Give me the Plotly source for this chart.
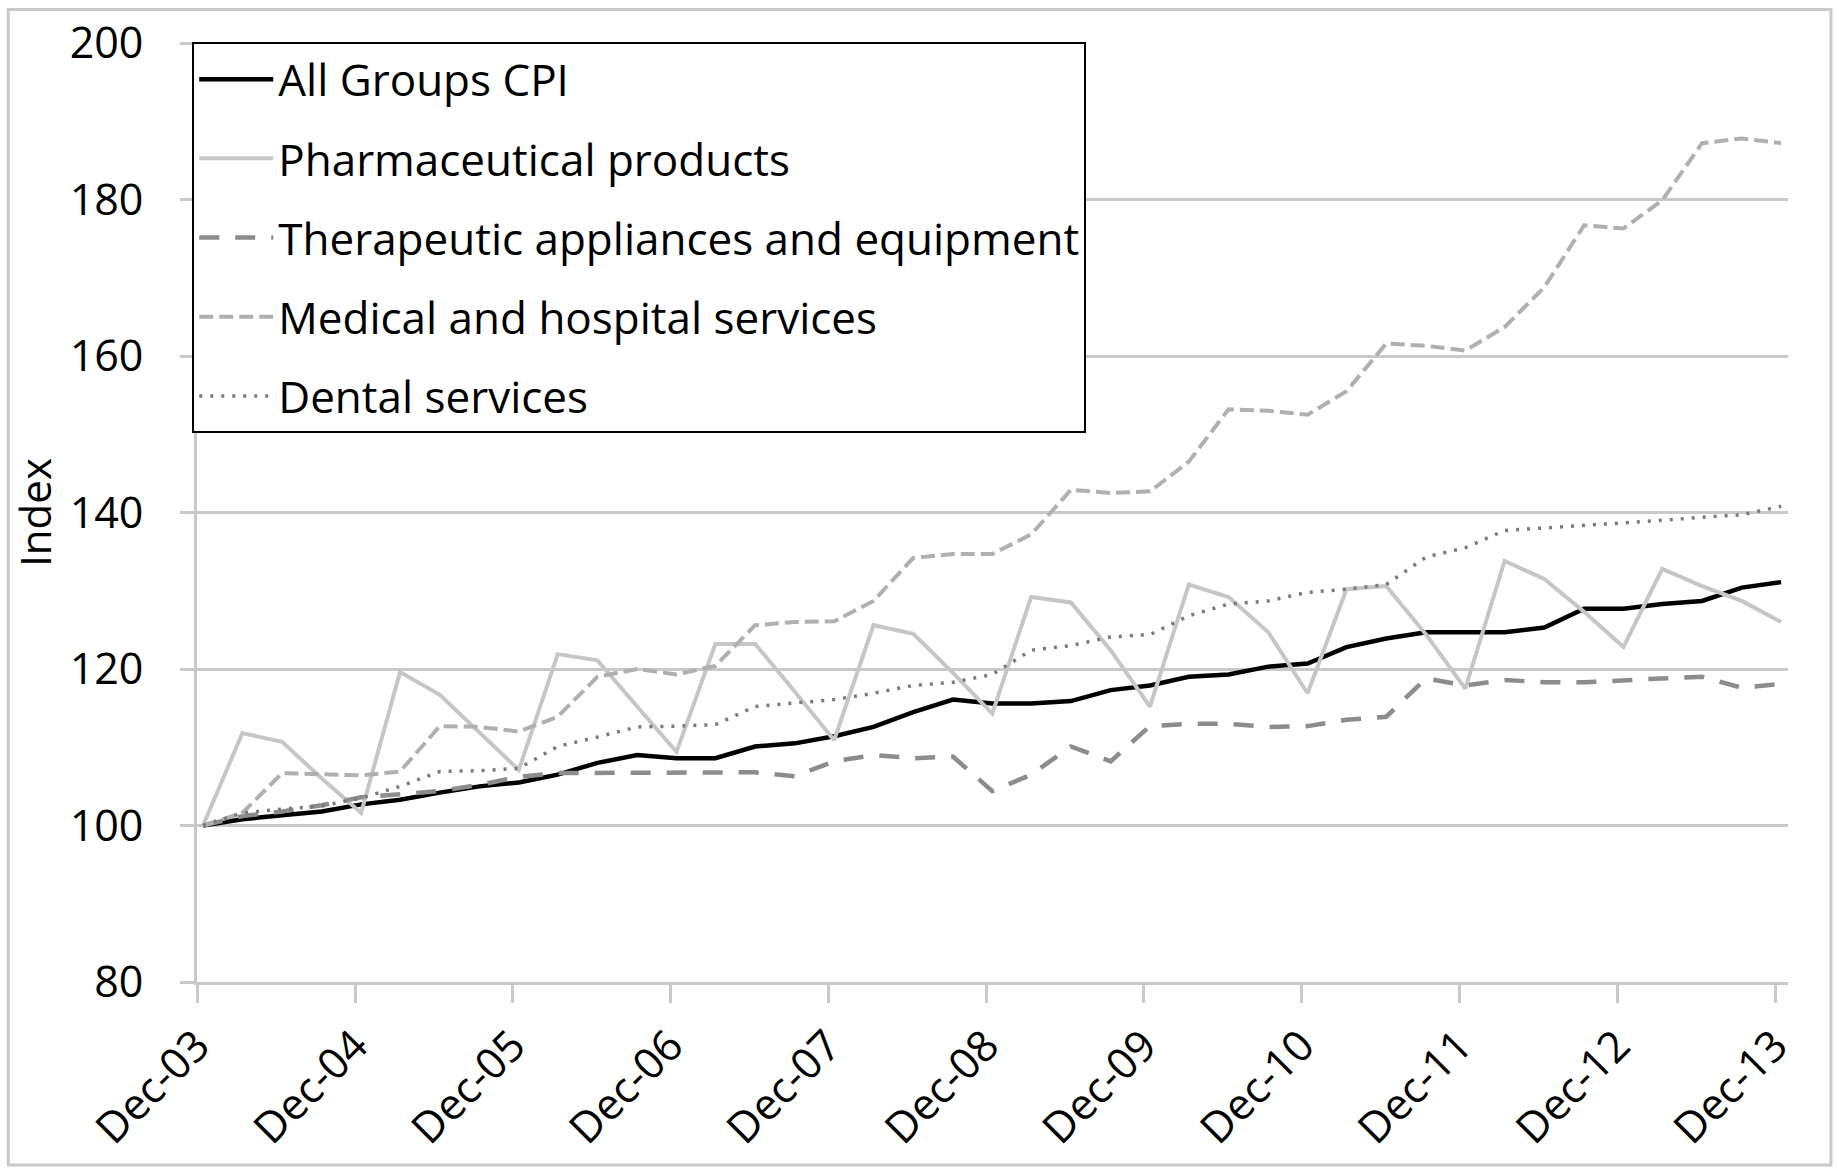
import pandas as pd
import plotly.graph_objects as go

# quarterly index, Dec-03 = 100
quarters = pd.date_range("2003-12-01", periods=41, freq="3MS") + pd.Timedelta(days=14)

cpi = [100, 100.8, 101.3, 101.8, 102.7, 103.3, 104.2, 105.0, 105.5, 106.5,
       108.0, 109.0, 108.6, 108.6, 110.1, 110.5, 111.4, 112.6, 114.5, 116.1,
       115.6, 115.6, 115.9, 117.3, 117.9, 119.0, 119.3, 120.3, 120.7, 122.8,
       123.9, 124.7, 124.7, 124.7, 125.3, 127.7, 127.7, 128.3, 128.7, 130.4,
       131.1]
pharma = [100, 111.8, 110.7, 106.0, 101.6, 119.6, 116.7, 111.8, 107.1, 121.9,
          121.1, 115.2, 109.4, 123.2, 123.2, 117.1, 110.9, 125.6, 124.5, 119.5,
          114.3, 129.2, 128.5, 122.4, 115.2, 130.8, 129.2, 124.7, 116.9, 130.2,
          130.6, 124.4, 117.5, 133.8, 131.5, 127.3, 122.8, 132.8, 130.6, 128.7,
          126.0]
therapeutic = [100, 101.2, 101.8, 102.6, 103.6, 104.0, 104.4, 105.2, 106.2, 106.7,
               106.7, 106.7, 106.7, 106.7, 106.8, 106.3, 108.2, 109.0, 108.6, 108.8,
               104.4, 106.5, 110.1, 108.2, 112.7, 113.0, 113.0, 112.6, 112.7, 113.5,
               113.9, 118.8, 117.9, 118.6, 118.3, 118.3, 118.6, 118.8, 119.0, 117.6,
               118.1]
medical = [100, 101.6, 106.7, 106.6, 106.4, 106.9, 112.7, 112.6, 112.0, 113.9,
           119.0, 120.0, 119.3, 120.4, 125.6, 126.0, 126.1, 128.7, 134.2, 134.7,
           134.7, 137.2, 142.9, 142.5, 142.7, 146.5, 153.2, 153.0, 152.5, 155.5,
           161.6, 161.3, 160.7, 163.7, 168.8, 176.7, 176.3, 179.9, 187.2, 187.8,
           187.2]
dental = [100, 101.6, 102.1, 102.5, 103.5, 105.0, 106.9, 107.0, 107.3, 110.1,
          111.3, 112.6, 112.7, 112.9, 115.2, 115.6, 116.1, 116.9, 117.9, 118.3,
          119.3, 122.4, 123.0, 124.1, 124.4, 126.8, 128.3, 128.7, 129.8, 130.2,
          130.8, 134.3, 135.5, 137.7, 138.0, 138.3, 138.6, 139.0, 139.4, 139.7,
          140.8]

tick_dates = [f"{y}-12-01" for y in range(2003, 2014)]
tick_labels = [f"Dec-{y % 100:02d}" for y in range(2003, 2014)]

font_family = "Open Sans"
grid_color = "#c9c9c9"

series = [
    ("All Groups CPI", cpi, dict(color = "black", width = 4.5)),
    ("Pharmaceutical products", pharma, dict(color = "#c6c6c6", width = 4)),
    ("Therapeutic appliances and equipment", therapeutic, dict(color = "#8c8c8c", width = 4.5, dash = "20px,16px")),
    ("Medical and hospital services", medical, dict(color = "#b0b0b0", width = 4, dash = "14px,6px")),
    ("Dental services", dental, dict(color = "#7a7a7a", width = 3.5, dash = "3px,8px")),
]

fig = go.Figure()
for name, values, line in series:
    fig.add_trace(go.Scatter(
        x = quarters,
        y = values,
        mode = "lines",
        name = name,
        legendgroup = name,
        line = line,
    ))

fig.update_layout(
    width = 1839,
    height = 1170,
    margin = dict(l = 197, r = 51, t = 43, b = 188, autoexpand = False),
    paper_bgcolor = "white",
    plot_bgcolor = "white",
    font = dict(family = font_family, size = 43, color = "black"),
    showlegend = True,
    legend = dict(
        x = -0.003,
        y = 1.001,
        xanchor = "left",
        yanchor = "top",
        bgcolor = "white",
        bordercolor = "black",
        borderwidth = 2,
        font = dict(family = font_family, size = 44, color = "black"),
        tracegroupgap = 19,
        itemwidth = 74,
    ),
    shapes = [dict(
        type = "rect", xref = "paper", yref = "paper",
        x0 = -0.1186, x1 = 1.027, y0 = -0.195, y1 = 1.0356,
        line = dict(color = grid_color, width = 3),
    )],
)

fig.update_xaxes(
    type = "date",
    range = ["2003-12-01", "2013-12-31"],
    tickvals = tick_dates,
    ticktext = tick_labels,
    tickangle = -45,
    ticks = "outside",
    ticklen = 18,
    tickwidth = 3,
    tickcolor = grid_color,
    showgrid = False,
    showline = True,
    linecolor = grid_color,
    linewidth = 3,
    zeroline = False,
    automargin = False,
)

fig.update_yaxes(
    range = [80, 200],
    dtick = 20,
    showgrid = True,
    gridcolor = grid_color,
    gridwidth = 3,
    showline = True,
    linecolor = grid_color,
    linewidth = 3,
    ticks = "outside",
    ticklen = 14,
    tickwidth = 3,
    tickcolor = grid_color,
    ticklabelstandoff = 28,
    zeroline = False,
    automargin = False,
    title = dict(text = "Index", standoff = 5, font = dict(size = 42)),
)

# drop the default page margin so the figure sits at the window's corner
fig.write_html(
    "out.html",
    config = dict(displayModeBar = False),
    post_script = "document.body.style.margin = '0';",
)
